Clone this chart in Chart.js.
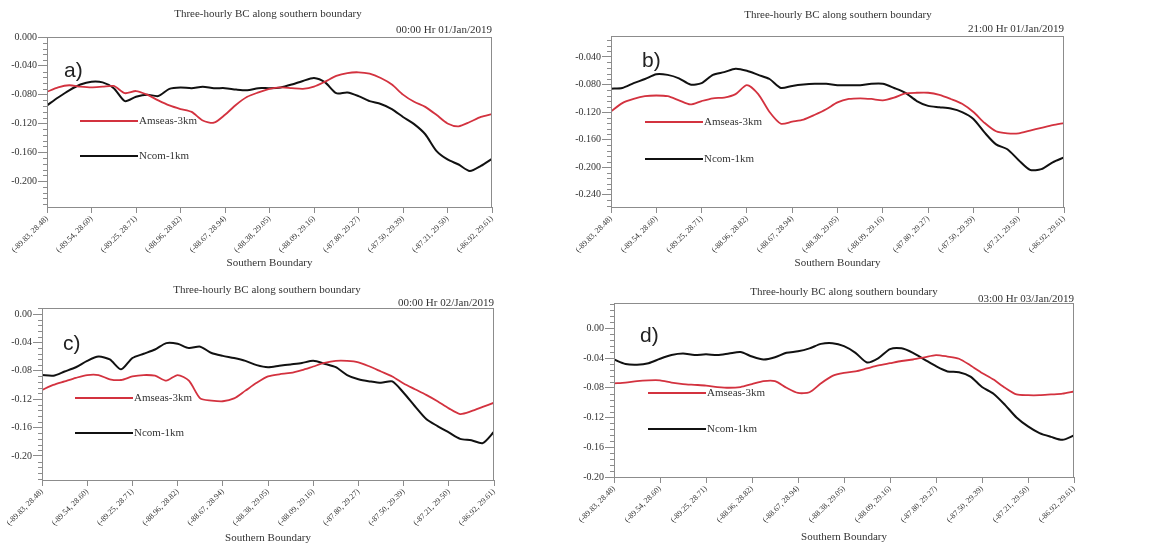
<!DOCTYPE html>
<html>
<head>
<meta charset="utf-8">
<title>Three-hourly BC along southern boundary</title>
<script src="https://cdn.jsdelivr.net/npm/chart.js@4"></script>
<style>
  body { margin: 0; background: #fff; }
  #wrap { position: relative; width: 1149px; height: 545px; overflow: hidden; background: #fff; }
  canvas { position: absolute; }
</style>
</head>
<body>
<div id="wrap">
  <canvas id="panel-a" width="575" height="272" style="left:0;top:0"></canvas>
  <canvas id="panel-b" width="574" height="272" style="left:575px;top:0"></canvas>
  <canvas id="panel-c" width="575" height="273" style="left:0;top:272px"></canvas>
  <canvas id="panel-d" width="574" height="273" style="left:575px;top:272px"></canvas>
</div>
<script>
// stations along the southern boundary (lon, lat)
const stations = ['(-89.83, 28.48)', '(-89.54, 28.60)', '(-89.25, 28.71)', '(-88.96, 28.82)',
  '(-88.67, 28.94)', '(-88.38, 29.05)', '(-88.09, 29.16)', '(-87.80, 29.27)',
  '(-87.50, 29.39)', '(-87.21, 29.50)', '(-86.92, 29.61)'];
const chartTitle = 'Three-hourly BC along southern boundary';
const xTitle = 'Southern Boundary';
const seriesNames = ['Amseas-3km', 'Ncom-1km'];

// a) 00:00 Hr 01/Jan/2019
const amseasA = [-0.076, -0.070, -0.067, -0.069, -0.070, -0.069, -0.068, -0.078, -0.075, -0.080,
  -0.088, -0.095, -0.100, -0.104, -0.116, -0.119, -0.108, -0.094, -0.083, -0.077,
  -0.072, -0.070, -0.071, -0.072, -0.069, -0.062, -0.054, -0.050, -0.049, -0.051,
  -0.057, -0.066, -0.080, -0.090, -0.097, -0.108, -0.120, -0.124, -0.118, -0.111, -0.107];
const ncomA = [-0.095, -0.084, -0.074, -0.066, -0.062, -0.063, -0.071, -0.089, -0.083, -0.080,
  -0.082, -0.072, -0.070, -0.071, -0.069, -0.071, -0.071, -0.073, -0.074, -0.071,
  -0.071, -0.070, -0.066, -0.061, -0.057, -0.063, -0.078, -0.077, -0.082, -0.089,
  -0.093, -0.100, -0.111, -0.121, -0.135, -0.158, -0.170, -0.177, -0.186, -0.179, -0.169];
const yTicksA = [0, -0.04, -0.08, -0.12, -0.16, -0.20];

// b) 21:00 Hr 01/Jan/2019
const amseasB = [-0.119, -0.107, -0.101, -0.097, -0.096, -0.097, -0.103, -0.109, -0.104, -0.100,
  -0.099, -0.094, -0.081, -0.094, -0.120, -0.137, -0.134, -0.131, -0.124, -0.116,
  -0.106, -0.101, -0.100, -0.101, -0.103, -0.099, -0.093, -0.092, -0.092, -0.095,
  -0.101, -0.108, -0.120, -0.136, -0.148, -0.151, -0.151, -0.147, -0.143, -0.139, -0.136];
const ncomB = [-0.086, -0.085, -0.078, -0.072, -0.065, -0.066, -0.071, -0.080, -0.078, -0.066,
  -0.062, -0.057, -0.060, -0.066, -0.072, -0.085, -0.082, -0.080, -0.079, -0.079,
  -0.081, -0.081, -0.081, -0.079, -0.079, -0.085, -0.092, -0.104, -0.111, -0.113,
  -0.115, -0.120, -0.130, -0.150, -0.167, -0.174, -0.190, -0.204, -0.203, -0.193, -0.186];
const yTicksB = [-0.04, -0.08, -0.12, -0.16, -0.20, -0.24];

// c) 00:00 Hr 02/Jan/2019
const amseasC = [-0.107, -0.100, -0.095, -0.090, -0.086, -0.086, -0.092, -0.093, -0.088, -0.086,
  -0.087, -0.094, -0.086, -0.094, -0.119, -0.122, -0.123, -0.119, -0.108, -0.097,
  -0.088, -0.085, -0.083, -0.079, -0.074, -0.069, -0.066, -0.066, -0.068, -0.074,
  -0.081, -0.088, -0.098, -0.106, -0.114, -0.123, -0.133, -0.141, -0.137, -0.131, -0.125];
const ncomC = [-0.086, -0.087, -0.081, -0.075, -0.066, -0.060, -0.064, -0.078, -0.062, -0.056,
  -0.050, -0.041, -0.042, -0.048, -0.046, -0.055, -0.059, -0.062, -0.066, -0.072,
  -0.075, -0.073, -0.071, -0.069, -0.066, -0.070, -0.075, -0.086, -0.092, -0.095,
  -0.097, -0.095, -0.111, -0.130, -0.148, -0.158, -0.167, -0.176, -0.178, -0.182, -0.166];
const yTicksC = [0, -0.04, -0.08, -0.12, -0.16, -0.20];

// d) 03:00 Hr 03/Jan/2019
const amseasD = [-0.074, -0.073, -0.071, -0.070, -0.070, -0.073, -0.075, -0.076, -0.077, -0.079,
  -0.080, -0.079, -0.075, -0.071, -0.071, -0.080, -0.087, -0.086, -0.074, -0.064,
  -0.060, -0.058, -0.054, -0.050, -0.047, -0.044, -0.042, -0.039, -0.036, -0.038,
  -0.041, -0.050, -0.060, -0.069, -0.080, -0.089, -0.090, -0.090, -0.089, -0.088, -0.085];
const ncomD = [-0.042, -0.048, -0.049, -0.047, -0.041, -0.036, -0.034, -0.036, -0.035, -0.036,
  -0.034, -0.032, -0.038, -0.042, -0.039, -0.033, -0.031, -0.027, -0.021, -0.020,
  -0.024, -0.033, -0.046, -0.040, -0.028, -0.027, -0.033, -0.042, -0.051, -0.058,
  -0.059, -0.065, -0.079, -0.088, -0.103, -0.120, -0.132, -0.141, -0.146, -0.150, -0.144];
const yTicksD = [0, -0.04, -0.08, -0.12, -0.16, -0.20];

const RED = '#d3323f';
const BLACK = '#111111';
const GREY = '#8c8c8c';
const TEXT = '#333333';
const SERIF = '"Liberation Serif", "Times New Roman", serif';

Chart.defaults.font.family = SERIF;
Chart.defaults.color = TEXT;

const panels = [
  { id: 'panel-a', letter: 'a)', time: '00:00 Hr 01/Jan/2019', amseas: amseasA, ncom: ncomA,
    yTicks: yTicksA, yMin: -0.236, yMax: 0, dec: 3,
    area: { left: 47, right: 492, top: 37, bottom: 207 },
    titleX: 268, titleY: 14, dateY: 30, letterX: 64, letterY: 71,
    legX: 80, legY: [121, 156], xTitleY: 263 },
  { id: 'panel-b', letter: 'b)', time: '21:00 Hr 01/Jan/2019', amseas: amseasB, ncom: ncomB,
    yTicks: yTicksB, yMin: -0.258, yMax: -0.0095, dec: 3,
    area: { left: 36, right: 489, top: 36, bottom: 207 },
    titleX: 263, titleY: 15, dateY: 29, letterX: 67, letterY: 61,
    legX: 70, legY: [122, 159], xTitleY: 263 },
  { id: 'panel-c', letter: 'c)', time: '00:00 Hr 02/Jan/2019', amseas: amseasC, ncom: ncomC,
    yTicks: yTicksC, yMin: -0.234, yMax: 0.0085, dec: 2,
    area: { left: 42, right: 494, top: 36, bottom: 208 },
    titleX: 267, titleY: 18, dateY: 31, letterX: 63, letterY: 72,
    legX: 75, legY: [126, 161], xTitleY: 266 },
  { id: 'panel-d', letter: 'd)', time: '03:00 Hr 03/Jan/2019', amseas: amseasD, ncom: ncomD,
    yTicks: yTicksD, yMin: -0.200, yMax: 0.034, dec: 2,
    area: { left: 39, right: 499, top: 31, bottom: 205 },
    titleX: 269, titleY: 20, dateY: 27, letterX: 65, letterY: 64,
    legX: 73, legY: [121, 157], xTitleY: 265 }
];

function makeDecor(p) {
  return {
    id: 'decor-' + p.id,
    afterDraw(chart) {
      const { ctx, chartArea: a } = chart;
      const y = chart.scales.y;
      ctx.save();
      // frame around the plot
      ctx.strokeStyle = GREY;
      ctx.lineWidth = 1;
      ctx.strokeRect(Math.round(a.left) + 0.5, Math.round(a.top) + 0.5,
        Math.round(a.right - a.left) - 1, Math.round(a.bottom - a.top));
      // minor ticks on the y axis
      ctx.beginPath();
      const step = 0.008;
      for (let v = Math.ceil(p.yMin / step) * step; v <= p.yMax + 1e-9; v += step) {
        if (Math.abs(v / 0.04 - Math.round(v / 0.04)) < 1e-6) continue;
        const py = Math.round(y.getPixelForValue(v)) + 0.5;
        ctx.moveTo(a.left - 4, py);
        ctx.lineTo(a.left, py);
      }
      ctx.stroke();

      ctx.fillStyle = TEXT;
      ctx.textBaseline = 'middle';
      ctx.font = '11px ' + SERIF;
      ctx.textAlign = 'center';
      ctx.fillText(chartTitle, p.titleX, p.titleY);
      ctx.fillText(xTitle, (a.left + a.right) / 2, p.xTitleY);
      ctx.textAlign = 'right';
      ctx.fillText(p.time, a.right, p.dateY);

      // in-plot legend
      const colors = [RED, BLACK];
      ctx.textAlign = 'left';
      seriesNames.forEach((name, i) => {
        ctx.strokeStyle = colors[i];
        ctx.lineWidth = 2;
        ctx.beginPath();
        ctx.moveTo(p.legX, p.legY[i]);
        ctx.lineTo(p.legX + 58, p.legY[i]);
        ctx.stroke();
        ctx.fillStyle = TEXT;
        ctx.fillText(name, p.legX + 59, p.legY[i]);
      });

      // panel letter
      ctx.fillStyle = '#222';
      ctx.font = '21px "Liberation Sans", Arial, sans-serif';
      ctx.fillText(p.letter, p.letterX, p.letterY);
      ctx.restore();
    }
  };
}

panels.forEach(p => {
  const canvas = document.getElementById(p.id);
  const perStation = (p.amseas.length - 1) / (stations.length - 1);
  const toPoints = arr => arr.map((v, i) => ({ x: i, y: v }));
  new Chart(canvas, {
    type: 'line',
    data: {
      datasets: [
        { label: seriesNames[0], data: toPoints(p.amseas), borderColor: RED, borderWidth: 1.8 },
        { label: seriesNames[1], data: toPoints(p.ncom), borderColor: BLACK, borderWidth: 2 }
      ]
    },
    options: {
      responsive: false,
      animation: false,
      layout: { padding: { left: 0, top: p.area.top, right: canvas.width - p.area.right, bottom: 0 } },
      elements: { point: { radius: 0 }, line: { tension: 0.25 } },
      plugins: { legend: { display: false }, tooltip: { enabled: false } },
      scales: {
        x: {
          type: 'linear',
          min: 0,
          max: p.amseas.length - 1,
          afterBuildTicks: s => { s.ticks = stations.map((_, i) => ({ value: i * perStation })); },
          afterFit: s => { s.height = canvas.height - p.area.bottom; s.paddingLeft = 0; s.paddingRight = 0; },
          ticks: {
            autoSkip: false, minRotation: 45, maxRotation: 45, padding: 1,
            font: { size: 8 },
            callback: v => stations[Math.round(v / perStation)]
          },
          grid: { drawOnChartArea: false, color: GREY, tickLength: 6 },
          border: { color: GREY }
        },
        y: {
          min: p.yMin,
          max: p.yMax,
          afterBuildTicks: s => { s.ticks = p.yTicks.map(v => ({ value: v })); },
          afterFit: s => { s.width = p.area.left; s.paddingTop = 0; s.paddingBottom = 0; },
          ticks: { padding: 1, font: { size: 10 }, callback: v => v.toFixed(p.dec) },
          grid: { drawOnChartArea: false, color: GREY, tickLength: 9 },
          border: { color: GREY }
        }
      }
    },
    plugins: [makeDecor(p)]
  });
});
</script>
</body>
</html>
